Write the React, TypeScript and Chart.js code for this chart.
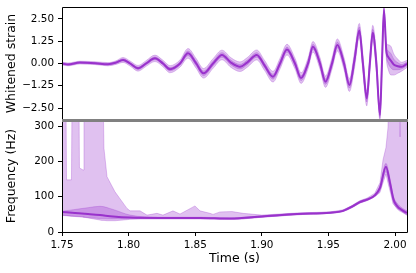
import React, { useEffect, useRef } from "react";
import { Chart, registerables } from "chart.js";
Chart.register(...registerables);

// ---------- data ----------
const xMin = 1.75;
const xMax = 2.009;
const timeTicks = [1.75, 1.8, 1.85, 1.9, 1.95, 2.0];
const strainTicks = [-2.5, -1.25, 0, 1.25, 2.5];
const freqTicks = [0, 100, 200, 300];

// Whitened strain (top panel)
const strainT = [
  1.7500, 1.7545, 1.7635, 1.7748, 1.7845, 1.7905, 1.7958, 1.8011, 1.8071, 1.8131,
  1.8198, 1.8258, 1.8311, 1.8386, 1.8446, 1.8506, 1.8563, 1.8634, 1.8701, 1.8769,
  1.8836, 1.8889, 1.8962, 1.9020, 1.9084, 1.9137, 1.9189, 1.9249, 1.9295, 1.9347,
  1.9384, 1.9437, 1.9478, 1.9527, 1.9567, 1.9617, 1.9658, 1.9696, 1.9732, 1.9759,
  1.9788, 1.9811, 1.9833, 1.9860, 1.9887, 1.9902, 1.9917, 1.9935, 1.9950, 1.9970,
  1.9990, 2.0020, 2.0050, 2.0090,
];
const strainMedian = [
  0.00, -0.05, 0.05, 0.02, -0.04, 0.05, 0.20, 0.00, -0.27, 0.00,
  0.29, 0.00, -0.32, 0.00, 0.57, 0.02, -0.55, 0.00, 0.48, 0.05,
  -0.18, 0.05, 0.48, -0.10, -0.74, 0.00, 0.78, 0.00, -0.82, 0.00,
  0.94, 0.00, -1.02, 0.00, 1.04, 0.00, -1.21, 0.20, 1.85, 0.00,
  -1.96, 0.00, 1.72, 0.00, -2.89, 0.00, 3.00, 0.70, 0.35, 0.15,
  -0.05, -0.15, -0.18, -0.02,
];
const strainOuterHalf = [
  0.08, 0.08, 0.08, 0.08, 0.09, 0.10, 0.14, 0.14, 0.16, 0.16,
  0.18, 0.18, 0.20, 0.20, 0.27, 0.27, 0.27, 0.27, 0.27, 0.27,
  0.27, 0.27, 0.28, 0.28, 0.30, 0.30, 0.30, 0.30, 0.30, 0.30,
  0.30, 0.32, 0.32, 0.32, 0.34, 0.34, 0.36, 0.45, 0.40, 0.50,
  0.42, 0.50, 0.42, 0.50, 0.30, 0.50, 0.25, 0.45, 0.70, 0.80,
  0.60, 0.40, 0.25, 0.20,
];
const strainInnerHalf = [
  0.04, 0.04, 0.04, 0.04, 0.04, 0.05, 0.06, 0.06, 0.07, 0.07,
  0.08, 0.08, 0.09, 0.09, 0.13, 0.13, 0.13, 0.13, 0.13, 0.13,
  0.13, 0.13, 0.13, 0.13, 0.14, 0.14, 0.14, 0.14, 0.14, 0.14,
  0.14, 0.15, 0.15, 0.15, 0.16, 0.16, 0.17, 0.22, 0.20, 0.25,
  0.20, 0.25, 0.20, 0.25, 0.15, 0.25, 0.12, 0.22, 0.35, 0.40,
  0.30, 0.20, 0.12, 0.10,
];

// Frequency (bottom panel)
const freqT = [
  1.7500, 1.7598, 1.7695, 1.7785, 1.7883, 1.8011, 1.8236, 1.8536, 1.8761, 1.9001,
  1.9264, 1.9512, 1.9610, 1.9677, 1.9736, 1.9789, 1.9848, 1.9887, 1.9932, 1.9962,
  1.9989, 2.0015, 2.0053, 2.0090,
];
const freqMedian = [57, 54, 51, 48, 44, 41, 40, 40, 38, 44, 51, 55, 60, 72, 85, 92, 104, 125, 185, 140, 92, 74, 62, 54];
const freqInnerHi = [59, 64, 69, 73, 64, 48, 42, 42, 40, 46, 53, 57, 62, 75, 88, 95, 107, 132, 195, 152, 100, 82, 68, 60];
const freqInnerLo = [47, 44, 41, 38, 37, 38, 38, 38, 36, 42, 49, 53, 58, 69, 82, 89, 101, 118, 172, 128, 84, 66, 56, 48];

const bandT = [
  1.7500, 1.7526, 1.7534, 1.7571, 1.7579, 1.7624, 1.7631, 1.7658, 1.7665, 1.7800,
  1.7815, 1.7838, 1.7898, 1.7988, 1.8011, 1.8086, 1.8138, 1.8213, 1.8258, 1.8333,
  1.8386, 1.8498, 1.8536, 1.8611, 1.8634, 1.8686, 1.8776, 1.8859, 1.9001, 1.9264,
  1.9512, 1.9610, 1.9677, 1.9736, 1.9789, 1.9848, 1.9887, 1.9910, 1.9932, 1.9947,
  1.9970, 1.9985, 2.0023, 2.0038, 2.0053, 2.0075, 2.0090,
];
const bandHi = [
  600, 600, 148, 148, 600, 600, 182, 176, 600, 600,
  238, 157, 114, 67, 60, 60, 48, 53, 48, 60,
  51, 74, 60, 53, 50, 57, 58, 53, 48, 54,
  57, 63, 75, 89, 96, 110, 140, 205, 240, 295,
  600, 600, 600, 270, 600, 600, 290,
];
const bandLo = [
  48, 47, 47, 45, 45, 44, 44, 43, 42, 33,
  33, 32, 32, 35, 36, 37, 37, 37, 37, 37,
  37, 37, 37, 37, 37, 36, 36, 37, 42, 49,
  53, 58, 69, 82, 89, 100, 112, 140, 165, 140,
  105, 80, 65, 62, 58, 52, 48,
];

// ---------- styles ----------
const PURPLE = "#9932CC";
const FILL = "rgba(153,50,204,0.3)";
const EDGE = "rgba(153,50,204,0.35)";
const FONT = "'DejaVu Sans', sans-serif";

function pts(xs: number[], ys: number[]) {
  return xs.map((x, i) => ({ x, y: ys[i] }));
}
function fmtStrain(v: number) {
  return v.toFixed(2).replace("-", "\u2212");
}

const topFrame = {
  id: "topFrame",
  afterDraw(chart: any) {
    const { ctx, chartArea: ca } = chart;
    ctx.save();
    ctx.strokeStyle = "#000";
    ctx.lineWidth = 1;
    ctx.beginPath();
    ctx.moveTo(ca.left + 0.5, ca.bottom);
    ctx.lineTo(ca.left + 0.5, ca.top + 0.5);
    ctx.lineTo(ca.right + 0.5, ca.top + 0.5);
    ctx.lineTo(ca.right + 0.5, ca.bottom);
    ctx.stroke();
    ctx.strokeStyle = "#808080";
    ctx.beginPath();
    ctx.moveTo(ca.left, ca.bottom - 0.5);
    ctx.lineTo(ca.right + 1, ca.bottom - 0.5);
    ctx.stroke();
    ctx.restore();
  },
};
const bottomFrame = {
  id: "bottomFrame",
  afterDraw(chart: any) {
    const { ctx, chartArea: ca } = chart;
    ctx.save();
    ctx.strokeStyle = "#000";
    ctx.lineWidth = 1;
    ctx.beginPath();
    ctx.moveTo(ca.left + 0.5, ca.top);
    ctx.lineTo(ca.left + 0.5, ca.bottom + 0.5);
    ctx.lineTo(ca.right + 0.5, ca.bottom + 0.5);
    ctx.lineTo(ca.right + 0.5, ca.top);
    ctx.stroke();
    ctx.strokeStyle = "#808080";
    ctx.lineWidth = 2;
    ctx.beginPath();
    ctx.moveTo(ca.left, ca.top + 1);
    ctx.lineTo(ca.right + 1, ca.top + 1);
    ctx.stroke();
    ctx.restore();
  },
};

function yScale(min: number, max: number, ticks: number[], title: string, fmt: (v: number) => string) {
  return {
    type: "linear",
    min,
    max,
    afterFit: (s: any) => {
      s.width = 62;
      s.paddingTop = 0;
      s.paddingBottom = 0;
    },
    afterBuildTicks: (s: any) => {
      s.ticks = ticks.map((v) => ({ value: v }));
    },
    ticks: {
      callback: (v: any) => fmt(Number(v)),
      font: { family: FONT, size: 10.4 },
      color: "#000",
      padding: 4,
    },
    grid: { drawOnChartArea: false, drawTicks: true, tickLength: 4, color: "#000", lineWidth: 1 },
    border: { display: false },
    title: {
      display: true,
      text: title,
      font: { family: FONT, size: 12.5 },
      color: "#000",
      padding: { top: 4.5, bottom: 0 },
    },
  };
}

function bandDatasets(xs: number[], lo: number[], hi: number[], order: number, smooth: boolean) {
  const common: any = {
    pointRadius: 0,
    borderWidth: 0.8,
    borderColor: EDGE,
    order,
    cubicInterpolationMode: smooth ? "monotone" : "default",
    tension: 0,
  };
  return [
    { ...common, data: pts(xs, lo), fill: false },
    { ...common, data: pts(xs, hi), fill: "-1", backgroundColor: FILL },
  ];
}

export default function App() {
  const topRef = useRef<HTMLCanvasElement>(null);
  const botRef = useRef<HTMLCanvasElement>(null);

  useEffect(() => {
    const outerLo = strainMedian.map((m, i) => m - strainOuterHalf[i]);
    const outerHi = strainMedian.map((m, i) => m + strainOuterHalf[i]);
    const innerLo = strainMedian.map((m, i) => m - strainInnerHalf[i]);
    const innerHi = strainMedian.map((m, i) => m + strainInnerHalf[i]);

    const topChart = new Chart(topRef.current as HTMLCanvasElement, {
      type: "line",
      data: {
        datasets: [
          ...bandDatasets(strainT, outerLo, outerHi, 2, true),
          ...bandDatasets(strainT, innerLo, innerHi, 1, true),
          {
            data: pts(strainT, strainMedian),
            borderColor: PURPLE,
            borderWidth: 2,
            pointRadius: 0,
            fill: false,
            order: 0,
            cubicInterpolationMode: "monotone",
          },
        ] as any,
      },
      options: {
        responsive: false,
        animation: false,
        layout: { padding: { top: 7, left: 0, right: 9, bottom: 1 } },
        plugins: { legend: { display: false }, tooltip: { enabled: false } },
        scales: {
          x: { type: "linear", min: xMin, max: xMax, display: false },
          y: yScale(-3.17, 3.17, strainTicks, "Whitened strain", fmtStrain) as any,
        },
      },
      plugins: [topFrame],
    });

    const botChart = new Chart(botRef.current as HTMLCanvasElement, {
      type: "line",
      data: {
        datasets: [
          ...bandDatasets(bandT, bandLo, bandHi, 2, false),
          ...bandDatasets(freqT, freqInnerLo, freqInnerHi, 1, true),
          {
            data: pts(freqT, freqMedian),
            borderColor: PURPLE,
            borderWidth: 2,
            pointRadius: 0,
            fill: false,
            order: 0,
            cubicInterpolationMode: "monotone",
          },
        ] as any,
      },
      options: {
        responsive: false,
        animation: false,
        layout: { padding: { top: 0, left: 0, right: 9, bottom: 0 } },
        plugins: { legend: { display: false }, tooltip: { enabled: false } },
        scales: {
          x: {
            type: "linear",
            min: xMin,
            max: xMax,
            afterFit: (s: any) => {
              s.height = 41;
              s.paddingLeft = 0;
              s.paddingRight = 0;
            },
            afterBuildTicks: (s: any) => {
              s.ticks = timeTicks.map((v) => ({ value: v }));
            },
            ticks: {
              callback: (v: any) => Number(v).toFixed(2),
              font: { family: FONT, size: 10.4 },
              color: "#000",
              padding: 3,
              maxRotation: 0,
              autoSkip: false,
            },
            grid: { drawOnChartArea: false, drawTicks: true, tickLength: 4, color: "#000", lineWidth: 1 },
            border: { display: false },
            title: {
              display: true,
              text: "Time (s)",
              font: { family: FONT, size: 12.5 },
              color: "#000",
              padding: { top: 0, bottom: 7 },
            },
          } as any,
          y: yScale(0, 318, freqTicks, "Frequency (Hz)", (v) => String(Math.round(v))) as any,
        },
      },
      plugins: [bottomFrame],
    });

    return () => {
      topChart.destroy();
      botChart.destroy();
    };
  }, []);

  return (
    <div style={{ position: "absolute", left: 0, top: 0, width: 416, height: 273, background: "#fff" }}>
      <canvas ref={topRef} width={416} height={121} style={{ position: "absolute", left: 0, top: 0 }} />
      <canvas ref={botRef} width={416} height={153} style={{ position: "absolute", left: 0, top: 120 }} />
    </div>
  );
}
